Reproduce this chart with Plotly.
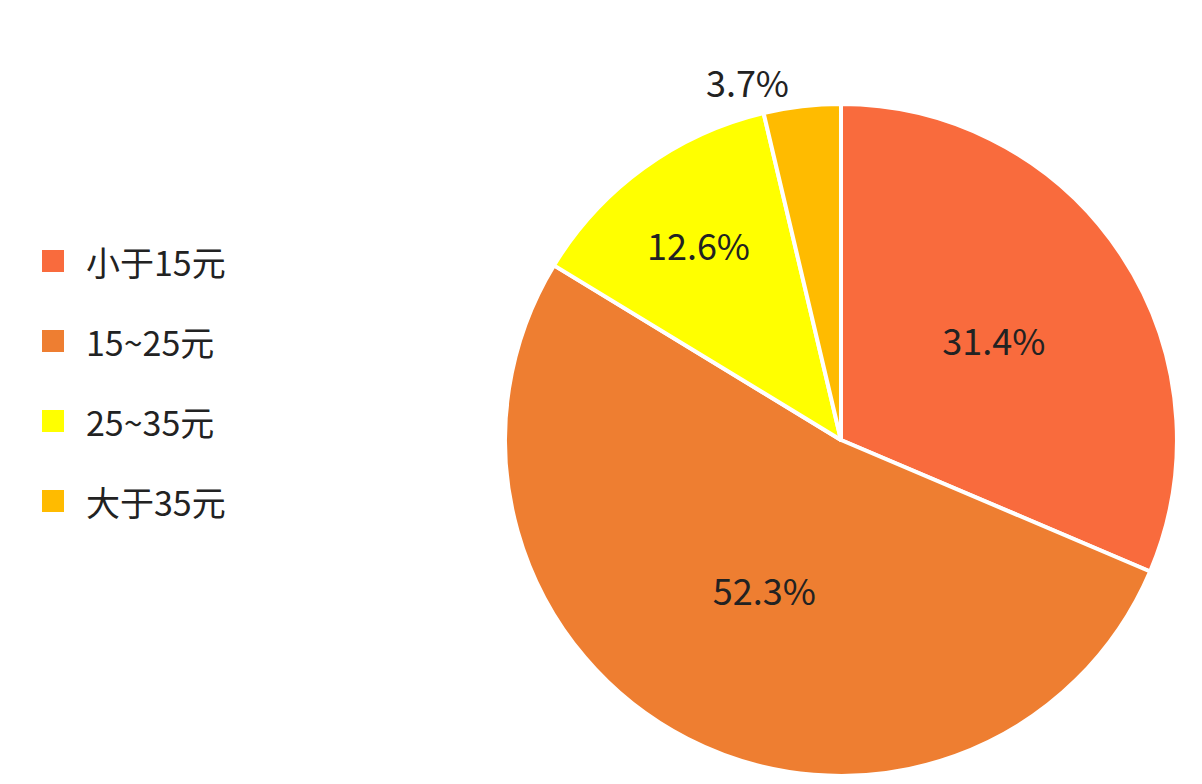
import plotly.graph_objects as go

labels = ["小于15元", "15~25元", "25~35元", "大于35元"]
values = [31.4, 52.3, 12.6, 3.7]
colors = ["#F96B3D", "#EE7E31", "#FFFF00", "#FFBB00"]

fig = go.Figure(go.Pie(
    labels=labels, values=values, sort=False, direction="clockwise", rotation=0,
    marker=dict(colors=colors, line=dict(color="white", width=4)),
    texttemplate="%{value:.1f}%", textposition=["inside", "inside", "inside", "outside"],
    insidetextorientation="horizontal",
    textfont=dict(size=36, color="#222222"),
    domain=dict(x=[0.4135, 0.9725], y=[0.0204, 0.8776]),
    showlegend=False,
))

# legend drawn by hand to match the wide row spacing
for i, (lab, col) in enumerate(zip(labels, colors)):
    yc = 1 - (253 + 80 * i) / 784
    fig.add_shape(type="rect", xref="paper", yref="paper",
                  x0=34 / 1202, x1=56 / 1202, y0=yc - 11 / 784, y1=yc + 11 / 784,
                  fillcolor=col, line_width=0)
    fig.add_annotation(x=76 / 1202, y=yc, xref="paper", yref="paper", text=lab,
                       showarrow=False, xanchor="left", yanchor="middle",
                       font=dict(size=34, color="#222222"))

fig.update_layout(
    width=1202, height=784, margin=dict(l=0, r=0, t=0, b=0),
    paper_bgcolor="white", plot_bgcolor="white",
    font=dict(family="Noto Sans CJK SC"),
)
fig.write_html("out.html")
